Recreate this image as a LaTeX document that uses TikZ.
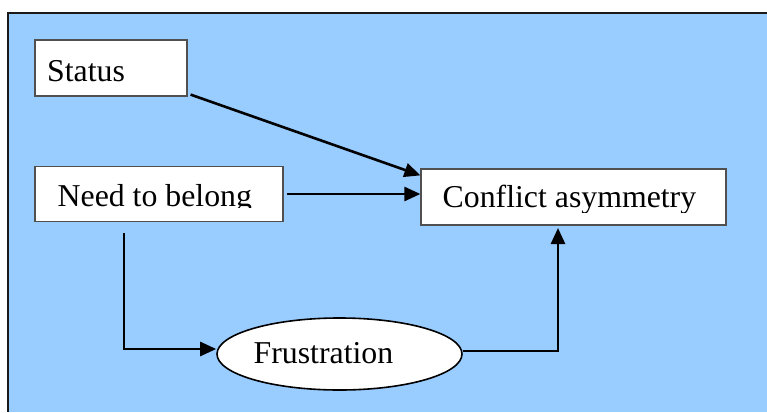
\documentclass[tikz,border=0pt]{standalone}
\usepackage{fontspec}
\setmainfont{Liberation Serif}
\usetikzlibrary{arrows.meta,shapes.geometric}
\definecolor{PanelBlue}{HTML}{99CCFF}
\definecolor{PanelEdge}{HTML}{1A1A1A}
\definecolor{BoxEdge}{HTML}{505050}
\tikzset{
  every node/.style={font=\fontsize{31.8}{36}\selectfont, text=black},
  factor/.style={draw=BoxEdge, line width=1.2pt, fill=white, inner sep=0pt},
  outcome/.style={ellipse, draw=black, line width=1.6pt, fill=white, inner sep=0pt},
  caption/.style={anchor=base west, inner sep=0pt},
  link/.style={-{Triangle[length=16pt,width=14pt]}, draw=black, line width=2.6pt},
}

\begin{document}
\begin{tikzpicture}[x=1pt,y=-1pt]
  \useasboundingbox (0,0) rectangle (767,412);
  % panel behind the model
  \fill[PanelBlue] (8,13) rectangle (767,412);
  \draw[PanelEdge, line width=2pt] (8,412) -- (8,13) -- (767,13);
  % boxes
  \node[factor, minimum width=152pt, minimum height=56pt] (status) at (111,68) {};
  \node[factor, minimum width=248pt, minimum height=55pt] (need) at (159,194) {};
  \node[factor, minimum width=305pt, minimum height=56pt] (conflict) at (573.5,197) {};
  \node[outcome, minimum width=245pt, minimum height=72pt] (frust) at (339.5,354) {};
  % labels, cut at the foot like the original text boxes
  \node[caption] (statuslabel) at (47,81) {Status};
  \begin{scope}
    \clip (need.north west) rectangle (283,207.6);
    \node[caption] (needlabel) at (57.5,206.7) {Need to belong};
  \end{scope}
  \begin{scope}
    \clip (conflict.north west) rectangle (726,212);
    \node[caption] (conflictlabel) at (442.5,207) {Conflict asymmetry};
  \end{scope}
  \node[caption] (frustlabel) at (253.5,363.3) {Frustration};
  % paths
  \coordinate (needdrop) at (124,233);
  \coordinate (conflictin) at (558,228);
  \draw[link] ([xshift=3pt,yshift=2pt]status.south east) -- ([yshift=-7pt]conflict.north west);
  \draw[link] ([xshift=3pt]need.east) -- (need.east -| conflict.west);
  \draw[link] (needdrop) |- ([yshift=5pt]frust.west);
  \draw[link] ([yshift=3pt]frust.east) -| (conflictin);
\end{tikzpicture}
\end{document}
